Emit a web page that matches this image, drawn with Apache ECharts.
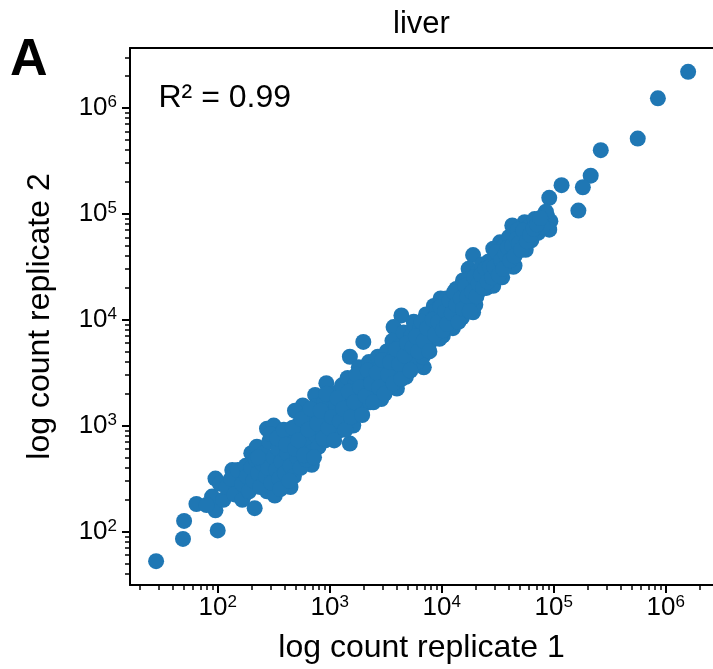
<!DOCTYPE html>
<html><head><meta charset="utf-8">
<script src="https://cdn.jsdelivr.net/npm/echarts@6/dist/echarts.min.js"></script>
<style>html,body{margin:0;padding:0;background:#fff}#c{width:713px;height:669px}</style>
</head><body><div id="c"></div>
<script>
const FONT = '"Liberation Sans", Arial, Helvetica, sans-serif';

// Each pair: [log10(count replicate 1), log10(count replicate 2)]
const highTail = [
  [6.20,6.34],[5.93,6.09],[5.75,5.71],[5.42,5.60],[5.33,5.36],[5.26,5.25],[5.07,5.27],[4.96,5.15],[5.22,5.03],[4.94,4.98],
  [4.97,4.93],[4.96,4.85],[4.88,4.92],[4.74,4.92],[4.63,4.89],[4.73,4.71],[4.65,4.51],[4.52,4.73],[4.46,4.67],[4.28,4.61],
  [4.24,4.48],[4.40,4.35],[4.31,4.41],[4.19,4.37],[4.13,4.29],[4.30,4.26],[4.28,4.07],[4.18,4.16],[4.10,4.13],[3.99,4.20],
  [3.93,4.13],[4.01,3.85],[4.00,3.98],[3.64,4.04],[3.57,3.93],[3.75,3.98],[3.81,3.79],[3.84,3.72],[3.84,3.55],[3.30,3.79],
  [3.18,3.65]
];
const lowTail = [
  [1.45,1.72],[1.69,1.93],[1.70,2.10],[2.00,2.01],[1.81,2.26],[1.98,2.20],[1.95,2.33],[1.98,2.50],[2.13,2.58],[2.11,2.38],
  [2.33,2.22],[2.30,2.74],[2.35,2.80],[2.20,2.47],[2.44,2.38],[2.53,2.42],[2.65,2.42],[2.51,2.34],[2.44,2.97],[2.50,3.00],
  [2.56,2.82],[2.84,2.63],[3.18,2.83],[2.97,3.40],[2.87,3.29],[2.76,3.19],[2.69,3.14],[3.38,3.25],
  [1.90,2.25],[2.02,2.45],[2.17,2.44],[2.24,2.35],[2.27,2.55]
];
const cloudA = [
  [2.05,2.30],[2.08,2.42],[2.12,2.50],[2.15,2.35],[2.18,2.58],[2.22,2.30],[2.22,2.45],[2.25,2.62],[2.26,2.52],[2.28,2.38],
  [2.30,2.60],[2.32,2.48],[2.34,2.68],[2.36,2.55],[2.38,2.42],[2.40,2.64],[2.41,2.74],[2.43,2.52],[2.45,2.60],[2.46,2.85],
  [2.48,2.46],[2.50,2.70],[2.52,2.58],[2.54,2.78],[2.55,2.50],[2.57,2.66],[2.58,2.88],[2.60,2.55],[2.62,2.74],[2.63,2.95],
  [2.65,2.62],[2.66,2.82],[2.68,2.52],[2.70,2.90],[2.71,2.70],[2.73,3.02],[2.74,2.60],[2.76,2.80],[2.78,2.96],[2.79,2.68],
  [2.80,3.10],[2.82,2.86],[2.84,2.75],[2.85,3.00],[2.87,3.18],[2.88,2.90],[2.90,2.80],[2.91,3.08],[2.93,2.97],[2.95,3.22],
  [2.96,2.86],[2.98,3.05],[3.00,3.15],[3.01,2.92],[3.03,3.30],[3.05,3.02],[3.06,3.20],[3.08,2.95],[3.10,3.12],[3.11,3.38],
  [3.13,3.25],[3.15,3.05],[3.16,3.45],[3.18,3.18],[3.20,3.32],[3.21,3.00],[3.23,3.40],[3.25,3.12],[3.26,3.55],[3.28,3.28],
  [3.30,3.20],[3.31,3.46],[3.33,3.36],[3.35,3.60],[3.36,3.22],[3.38,3.50],[3.40,3.30],[3.41,3.42],[3.43,3.65],[3.45,3.55],
  [3.46,3.25],[3.48,3.48],[3.50,3.38],[3.51,3.70],[3.53,3.58],[3.55,3.45],[3.56,3.80],[3.58,3.66],[3.60,3.35],[3.61,3.52],
  [3.63,3.75],[3.65,3.62],[3.66,3.88],[3.68,3.46],[3.70,3.70],[3.71,3.58],[3.73,3.85],[3.75,3.68],[3.76,3.95],[3.78,3.60],
  [3.80,3.80],[3.81,3.92],[3.83,3.65],[3.85,3.88],[3.86,4.05],[3.88,3.75],[3.90,3.96],[3.91,3.82],[3.93,4.02],[3.95,3.90],
  [3.96,4.10],[3.98,3.82],[4.00,4.05],[4.02,3.95],[4.04,4.20],[4.06,4.00],[4.08,4.12],[4.10,3.92],[4.12,4.22],[4.14,4.06],
  [4.16,4.30],[4.18,4.02],[4.20,4.25],[4.22,4.15],[4.24,4.38],[4.26,4.20],[4.28,4.32],[4.30,4.14],[4.32,4.45],[4.34,4.28],
  [4.36,4.52],[4.38,4.40],[4.40,4.30],[4.42,4.55],[4.44,4.42],[4.46,4.32],[4.48,4.58],[4.50,4.48],[4.52,4.62],[4.54,4.40],
  [4.56,4.70],[4.58,4.55],[4.60,4.78],[4.62,4.62],[4.64,4.50],[4.66,4.72],[4.68,4.85],[4.70,4.66],[4.72,4.80],[4.75,4.66],
  [4.78,4.88],[4.80,4.75],[4.83,4.95],[4.86,4.82],[4.90,4.88],[4.93,5.02]
];
const cloudB = [
  [2.36,2.70],[2.47,2.92],[2.53,2.88],[2.56,2.40],[2.59,2.96],[2.61,2.82],[2.64,2.48],[2.67,2.98],[2.69,2.78],
  [2.72,2.86],[2.75,3.06],[2.77,2.72],[2.81,2.96],[2.83,3.16],[2.86,2.70],[2.89,3.02],[2.92,3.14],[2.94,2.88],[2.97,3.30],
  [2.99,2.98],[3.02,3.08],[3.04,2.86],[3.07,3.26],[3.09,3.04],[3.12,3.16],[3.14,2.96],[3.17,3.32],[3.19,3.08],[3.22,3.22],
  [3.24,3.48],[3.27,3.36],[3.29,3.10],[3.32,3.28],[3.34,3.52],[3.37,3.40],[3.39,3.22],[3.42,3.50],[3.44,3.36],[3.47,3.62],
  [3.49,3.30],[3.52,3.48],[3.54,3.60],[3.57,3.40],[3.59,3.72],[3.62,3.58],[3.64,3.44],[3.67,3.66],[3.69,3.78],[3.72,3.52],
  [3.74,3.74],[3.77,3.84],[3.79,3.70],[3.82,3.98],[3.84,3.80],[3.87,3.92],[3.89,3.70],[3.92,4.00],[3.94,3.86],[3.97,3.98],
  [3.99,4.12],[4.01,3.90],[4.03,4.08],[4.05,3.96],[4.07,4.18],[4.09,4.06],[4.11,4.26],[4.13,4.14],[4.15,3.98],[4.17,4.20],
  [4.19,4.10],[4.21,4.32],[4.23,4.22],[4.25,4.08],[4.27,4.26],[4.29,4.40],[4.31,4.22],[4.33,4.34],[4.35,4.42],[4.37,4.30],
  [4.39,4.48],[4.41,4.36],[4.43,4.50],[4.45,4.40],[4.47,4.50],[4.49,4.64],[4.51,4.42],[4.53,4.56],[4.55,4.48],[4.57,4.62],
  [4.59,4.68],[4.61,4.56],[4.63,4.70],[4.65,4.60],[4.67,4.76],[4.69,4.72],[4.71,4.66],[4.73,4.84],[4.76,4.74],[4.79,4.80],
  [4.82,4.86],[4.85,4.90],[4.88,4.96]
];

const majorExps = [2, 3, 4, 5, 6];
const minorMultipliers = [2, 3, 4, 5, 6, 7, 8, 9];
const xRangeLog = [1.217, 6.422];
const yRangeLog = [1.495, 6.565];
const titleText = 'liver';
const panelLetter = 'A';
const r2Text = 'R\u00B2 = 0.99';
const xName = 'log count replicate 1';
const yName = 'log count replicate 2';

const allPairs = [].concat(highTail, lowTail, cloudA, cloudB);
const data = allPairs.map(p => [Math.pow(10, p[0]), Math.pow(10, p[1])]);

const minorX = [], minorY = [];
for (let n = 1; n <= 6; n++) {
  for (const k of minorMultipliers) {
    const v = n + Math.log10(k);
    if (v > xRangeLog[0] && v < xRangeLog[1]) minorX.push(v);
    if (v > yRangeLog[0] && v < yRangeLog[1]) minorY.push(v);
  }
}

const tickRich = {
  b: { fontFamily: FONT, fontSize: 26, lineHeight: 28, color: '#000' },
  s: { fontFamily: FONT, fontSize: 17, lineHeight: 17, color: '#000', verticalAlign: 'top' }
};
const fmt = v => '{b|10}{s|' + Math.round(v) + '}';
const lineStyle = { color: '#000', width: 2 };

function decoAxes(range, mainPos, oppPos, minors, name, isY) {
  return [
    {
      type: 'value', min: range[0], max: range[1], position: mainPos,
      axisLine: { show: true, onZero: false, lineStyle: lineStyle },
      axisTick: { show: true, customValues: majorExps, length: 8, lineStyle: { color: '#000', width: 2 } },
      axisLabel: { show: true, customValues: majorExps, formatter: fmt, margin: isY ? 13 : 9, rich: tickRich },
      splitLine: { show: false },
      name: name, nameLocation: 'middle', nameGap: isY ? 74 : 47,
      nameTextStyle: { fontFamily: FONT, fontSize: 32, color: '#000', lineHeight: 32 }
    },
    {
      type: 'value', min: range[0], max: range[1], position: mainPos,
      axisLine: { show: false, onZero: false },
      axisTick: { show: true, customValues: minors, length: 5, lineStyle: { color: '#000', width: 1.5 } },
      axisLabel: { show: false }, splitLine: { show: false }
    },
    ...(oppPos ? [{
      type: 'value', min: range[0], max: range[1], position: oppPos,
      axisLine: { show: true, onZero: false, lineStyle: lineStyle },
      axisTick: { show: false }, axisLabel: { show: false }, splitLine: { show: false }
    }] : [])
  ];
}

const chart = echarts.init(document.getElementById('c'), null, { renderer: 'canvas', width: 713, height: 669 });
chart.setOption({
  animation: false,
  backgroundColor: '#fff',
  grid: { left: 130, right: 0, top: 48, bottom: 82, containLabel: false },
  xAxis: [
    { type: 'log', logBase: 10, min: Math.pow(10, xRangeLog[0]), max: Math.pow(10, xRangeLog[1]), show: false }
  ].concat(decoAxes(xRangeLog, 'bottom', 'top', minorX, xName, false)),
  yAxis: [
    { type: 'log', logBase: 10, min: Math.pow(10, yRangeLog[0]), max: Math.pow(10, yRangeLog[1]), show: false }
  ].concat(decoAxes(yRangeLog, 'left', null, minorY, yName, true)),
  series: [{
    type: 'scatter', xAxisIndex: 0, yAxisIndex: 0, data: data,
    symbol: 'circle', symbolSize: 16, silent: true,
    itemStyle: { color: '#1f77b4', opacity: 1, borderWidth: 0 }
  }],
  graphic: [
    { type: 'text', x: 10, y: 61, style: { text: panelLetter, font: 'bold 52px ' + FONT, fill: '#000', textAlign: 'left', textVerticalAlign: 'middle' } },
    { type: 'text', x: 158.5, y: 98, style: { text: r2Text, font: '32px ' + FONT, fill: '#000', textAlign: 'left', textVerticalAlign: 'middle' } },
    { type: 'text', x: 421.5, y: 24, style: { text: titleText, font: '31px ' + FONT, fill: '#000', textAlign: 'center', textVerticalAlign: 'middle' } }
  ]
});
</script>
</body></html>
